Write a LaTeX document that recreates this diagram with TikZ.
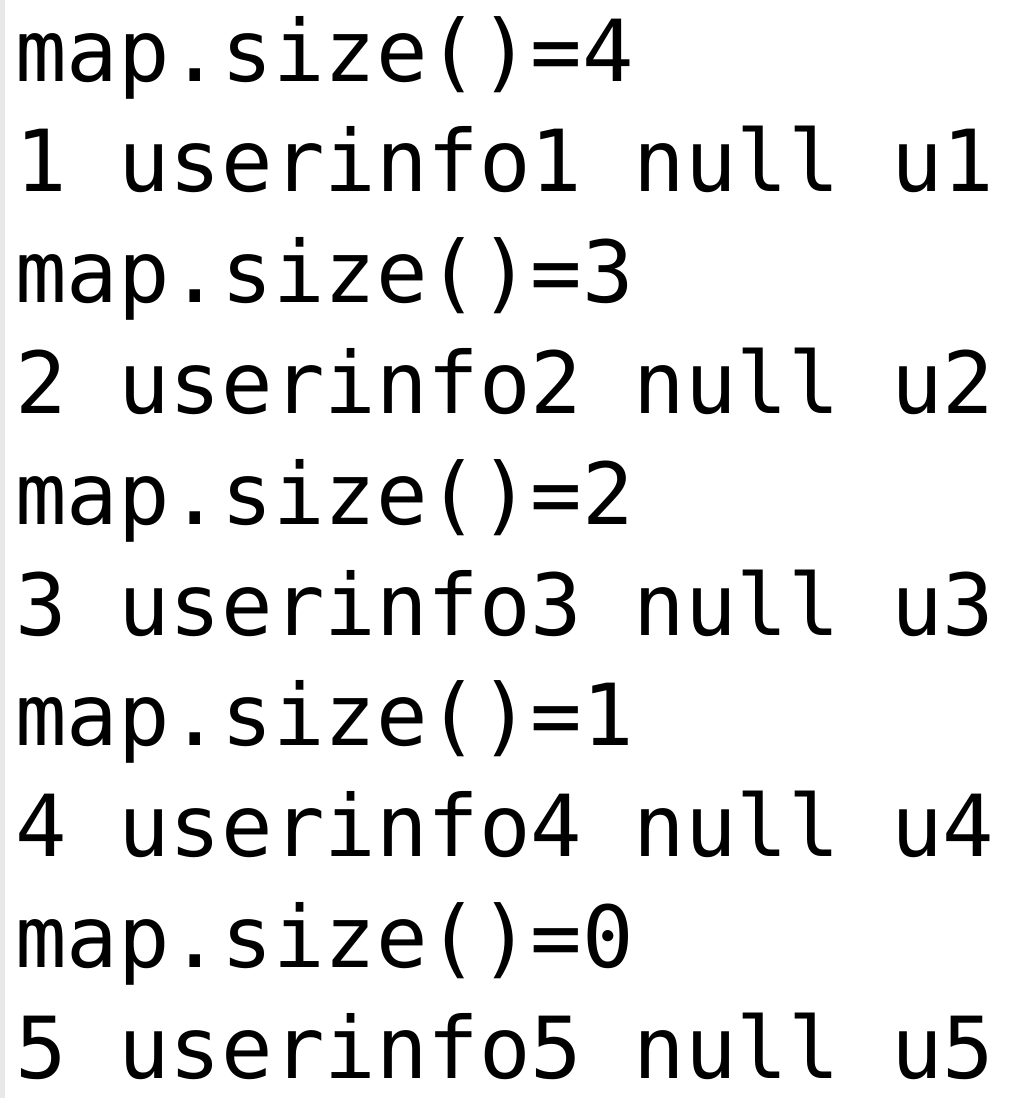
\documentclass[tikz,border=0pt]{standalone}
\usepackage{fontspec}
\setmonofont{DejaVu Sans Mono}
\tikzset{
    line/.style={anchor=base west,inner sep=0pt,font=\ttfamily\fontsize{42.8pt}{50pt}\selectfont}
}
\begin{document}
\begin{tikzpicture}[x=0.5pt,y=-0.5pt]
        \useasboundingbox[fill=white] (0,0) rectangle (1025,1098);
        \fill[gray!18] (0,0) rectangle (5,1098);
        \foreach \i in {1,...,5} {
            \pgfmathtruncatemacro{\n}{5-\i}
            \node[line] (size\i) at (15,{81+(2*\i-2)*110.8}) {map.size()=\n};
            \node[line] (row\i) at (15,{81+(2*\i-1)*110.8}) {\i{} userinfo\i{} null u\i};
        }
    \end{tikzpicture}
\end{document}
